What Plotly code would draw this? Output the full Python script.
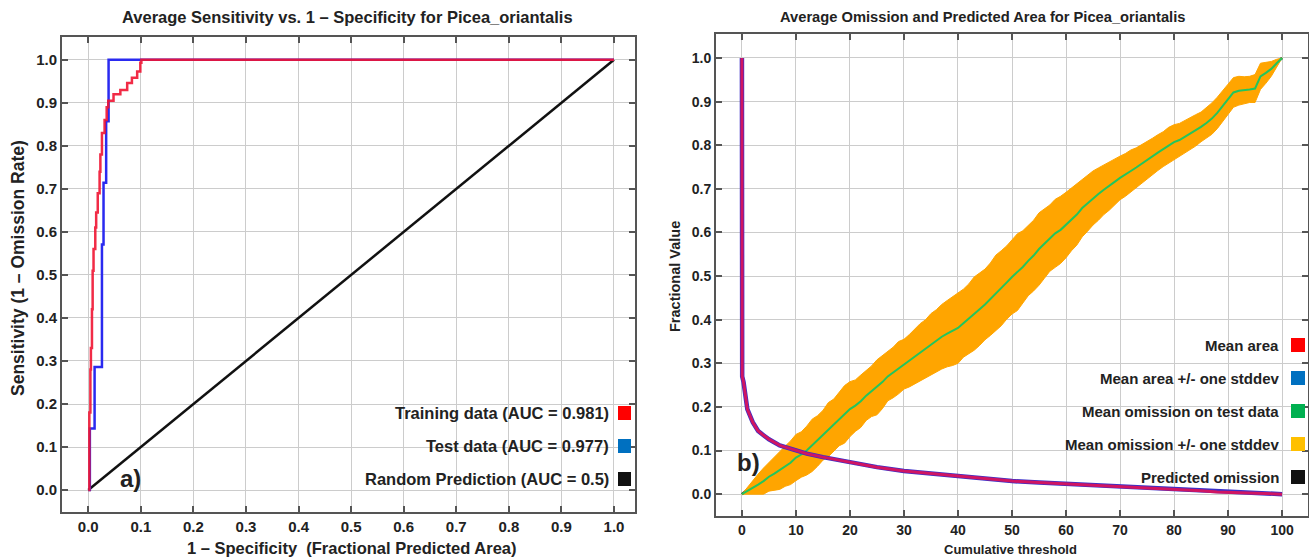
import plotly.graph_objects as go

# ---------------- Left panel: ROC ----------------
train_fpr = [0, 0.002, 0.004, 0.005, 0.007, 0.0083, 0.010, 0.0133, 0.015, 0.018, 0.0215,
             0.023, 0.026, 0.031, 0.035, 0.038, 0.048, 0.061, 0.074, 0.083, 0.093, 0.099,
             0.101, 1.0]
train_tpr = [0, 0.18, 0.28, 0.33, 0.42, 0.51, 0.56, 0.61, 0.645, 0.69, 0.74,
             0.78, 0.83, 0.86, 0.89, 0.905, 0.92, 0.93, 0.946, 0.958, 0.973, 0.993,
             1.0, 1.0]
test_fpr = [0, 0.003, 0.012, 0.026, 0.029, 0.034, 0.0386, 1.0]
test_tpr = [0, 0.143, 0.286, 0.571, 0.714, 0.857, 1.0, 1.0]
random_fpr = [0, 1]
random_tpr = [0, 1]
roc_legend = ["Training data (AUC = 0.981)", "Test data (AUC = 0.977)",
              "Random Prediction (AUC = 0.5)"]
roc_colors = ["#ff0000", "#0070c0", "#111111"]

# ---------------- Right panel: omission / area ----------------
thr = list(range(0, 101))
omission_mean = [
    0.000, 0.007, 0.015, 0.022, 0.030, 0.040, 0.047, 0.055, 0.064, 0.072,
    0.084, 0.091, 0.100, 0.112, 0.122, 0.135, 0.148, 0.158, 0.172, 0.183,
    0.195, 0.203, 0.213, 0.226, 0.236, 0.245, 0.257, 0.270, 0.279, 0.290,
    0.298, 0.306, 0.316, 0.325, 0.333, 0.344, 0.352, 0.361, 0.368, 0.374,
    0.381, 0.392, 0.402, 0.414, 0.424, 0.435, 0.447, 0.461, 0.472, 0.485,
    0.498, 0.509, 0.521, 0.535, 0.547, 0.562, 0.574, 0.587, 0.598, 0.606,
    0.617, 0.630, 0.641, 0.656, 0.667, 0.679, 0.688, 0.698, 0.706, 0.716,
    0.725, 0.732, 0.741, 0.749, 0.757, 0.766, 0.774, 0.783, 0.791, 0.800,
    0.807, 0.812, 0.819, 0.827, 0.834, 0.842, 0.851, 0.861, 0.874, 0.889,
    0.905, 0.921, 0.925, 0.926, 0.928, 0.930, 0.958, 0.966, 0.975, 0.988,
    1.000]
omission_sd = [
    0.000, 0.009, 0.017, 0.024, 0.030, 0.033, 0.038, 0.044, 0.046, 0.050,
    0.053, 0.052, 0.056, 0.060, 0.058, 0.057, 0.062, 0.060, 0.061, 0.066,
    0.063, 0.059, 0.060, 0.057, 0.058, 0.063, 0.061, 0.056, 0.058, 0.060,
    0.057, 0.060, 0.063, 0.066, 0.067, 0.070, 0.071, 0.074, 0.076, 0.079,
    0.081, 0.078, 0.080, 0.084, 0.083, 0.081, 0.083, 0.087, 0.086, 0.084,
    0.085, 0.088, 0.083, 0.080, 0.081, 0.083, 0.079, 0.076, 0.078, 0.077,
    0.075, 0.072, 0.070, 0.066, 0.064, 0.062, 0.060, 0.057, 0.055, 0.052,
    0.050, 0.049, 0.048, 0.045, 0.044, 0.043, 0.042, 0.041, 0.040, 0.041,
    0.040, 0.038, 0.038, 0.037, 0.036, 0.034, 0.035, 0.036, 0.036, 0.035,
    0.035, 0.034, 0.033, 0.031, 0.030, 0.032, 0.030, 0.024, 0.017, 0.009,
    0.000]
area_thr = [0, 0.05, 0.3, 1, 2, 3, 4, 5, 7, 10, 12, 15, 20, 25, 30, 35, 40, 45, 50, 55,
            60, 65, 70, 75, 80, 85, 88, 90, 95, 100]
area_mean = [1.0, 0.27, 0.257, 0.195, 0.165, 0.145, 0.135, 0.126, 0.112, 0.1, 0.093,
             0.085, 0.073, 0.062, 0.053, 0.047, 0.041, 0.035, 0.03, 0.027, 0.024, 0.02,
             0.017, 0.014, 0.011, 0.008, 0.005, 0.004, 0.002, 0.0]
pred_omission_x = [0, 100]
pred_omission_y = [0, 1]
om_legend = ["Mean area", "Mean area +/- one stddev", "Mean omission on test data",
             "Mean omission +/- one stddev", "Predicted omission"]
om_colors = ["#ff0000", "#0070c0", "#00b050", "#ffc000", "#111111"]

omission_upper = [m + s for m, s in zip(omission_mean, omission_sd)]
omission_lower = [max(0.0, m - s) for m, s in zip(omission_mean, omission_sd)]

W, H = 1309, 558
FONT = "Liberation Sans, Arial, sans-serif"

fig = go.Figure()

# left traces
fig.add_trace(go.Scatter(x=random_fpr, y=random_tpr, mode="lines",
                         line=dict(color="#111111", width=2.5), xaxis="x", yaxis="y",
                         showlegend=False))
fig.add_trace(go.Scatter(x=test_fpr, y=test_tpr, mode="lines", line_shape="hv",
                         line=dict(color="#2a2af0", width=2.5), xaxis="x", yaxis="y",
                         showlegend=False))
fig.add_trace(go.Scatter(x=train_fpr, y=train_tpr, mode="lines", line_shape="hv",
                         line=dict(color="rgba(240,20,50,0.9)", width=2.5), xaxis="x", yaxis="y",
                         showlegend=False))

# right traces
fig.add_trace(go.Scatter(x=pred_omission_x, y=pred_omission_y, mode="lines",
                         line=dict(color="#111111", width=2.5), xaxis="x2", yaxis="y2",
                         showlegend=False))
fig.add_trace(go.Scatter(x=thr, y=omission_lower, mode="lines",
                         line=dict(color="#ffa500", width=1), xaxis="x2", yaxis="y2",
                         showlegend=False))
fig.add_trace(go.Scatter(x=thr, y=omission_upper, mode="lines",
                         line=dict(color="#ffa500", width=1), fill="tonexty",
                         fillcolor="#ffa500", xaxis="x2", yaxis="y2", showlegend=False))
fig.add_trace(go.Scatter(x=thr, y=omission_mean, mode="lines",
                         line=dict(color="#22c55e", width=2), xaxis="x2", yaxis="y2",
                         showlegend=False))
fig.add_trace(go.Scatter(x=area_thr, y=area_mean, mode="lines",
                         line=dict(color="#3a2fc8", width=4.5), xaxis="x2", yaxis="y2",
                         showlegend=False))
fig.add_trace(go.Scatter(x=area_thr, y=area_mean, mode="lines",
                         line=dict(color="rgba(235,16,80,0.85)", width=3), xaxis="x2", yaxis="y2",
                         showlegend=False))

axis_common = dict(showline=True, mirror="ticks", linecolor="#555555", linewidth=2,
                   ticks="inside", ticklen=6, tickcolor="#555555", tickwidth=1.5,
                   showgrid=True, gridcolor="#cccccc", gridwidth=1.3, zeroline=False)

fig.update_layout(
    width=W, height=H, margin=dict(l=0, r=0, t=0, b=0),
    paper_bgcolor="white", plot_bgcolor="white", showlegend=False,
    xaxis=dict(domain=[62 / W, 635 / W], range=[-0.05, 1.04], dtick=0.1, tick0=0,
               tickformat=".1f", anchor="y",
               tickfont=dict(family=FONT, size=15, color="#222", weight="bold"), **axis_common),
    yaxis=dict(domain=[1 - 512 / H, 1 - 37 / H], range=[-0.051, 1.053], dtick=0.1, tick0=0,
               tickformat=".1f", anchor="x",
               tickfont=dict(family=FONT, size=15, color="#222", weight="bold"), **axis_common),
    xaxis2=dict(domain=[716 / W, 1308 / W], range=[-4.8, 104.8], dtick=10, tick0=0,
                anchor="y2",
                tickfont=dict(family=FONT, size=14, color="#222", weight="bold"), **axis_common),
    yaxis2=dict(domain=[1 - 516 / H, 1 - 34 / H], range=[-0.05, 1.055], dtick=0.1, tick0=0,
                tickformat=".1f", anchor="x2",
                tickfont=dict(family=FONT, size=14, color="#222", weight="bold"), **axis_common),
)

ann = []
def txt(x, y, s, size, xanchor="center", textangle=0):
    ann.append(dict(x=x / W, y=1 - y / H, xref="paper", yref="paper", text=s,
                    showarrow=False, xanchor=xanchor, yanchor="middle", textangle=textangle,
                    font=dict(family=FONT, size=size, color="#222", weight="bold")))

txt(347, 17, "Average Sensitivity vs. 1 – Specificity for Picea_oriantalis", 16.5)
txt(352, 548, "1 – Specificity  (Fractional Predicted Area)", 16.5)
txt(18, 268, "Sensitivity (1 – Omission Rate)", 17.5, textangle=-90)
txt(982, 17, "Average Omission and Predicted Area for Picea_oriantalis", 14.7)
txt(1010, 549, "Cumulative threshold", 13)
txt(675, 277, "Fractional Value", 14.5, textangle=-90)
txt(130, 478, "a)", 24)
txt(749, 462, "b)", 24)

shapes = []
for i, (lab, col) in enumerate(zip(roc_legend, roc_colors)):
    yc = 413 + 33 * i
    txt(611, yc, lab, 16.5, xanchor="right")
    shapes.append(dict(type="rect", xref="paper", yref="paper",
                       x0=618 / W, x1=631 / W, y0=1 - (yc + 7) / H, y1=1 - (yc - 7) / H,
                       fillcolor=col, line=dict(width=0)))
for i, (lab, col) in enumerate(zip(om_legend, om_colors)):
    yc = 345 + 33 * i
    txt(1281, yc, lab, 15, xanchor="right")
    shapes.append(dict(type="rect", xref="paper", yref="paper",
                       x0=1291 / W, x1=1305 / W, y0=1 - (yc + 7) / H, y1=1 - (yc - 7) / H,
                       fillcolor=col, line=dict(width=0)))

fig.update_layout(annotations=ann, shapes=shapes)
fig.write_html("out.html", config={"displayModeBar": False},
               post_script="document.body.style.margin='0';document.body.style.padding='0';"
                           "document.body.style.overflow='hidden';")
